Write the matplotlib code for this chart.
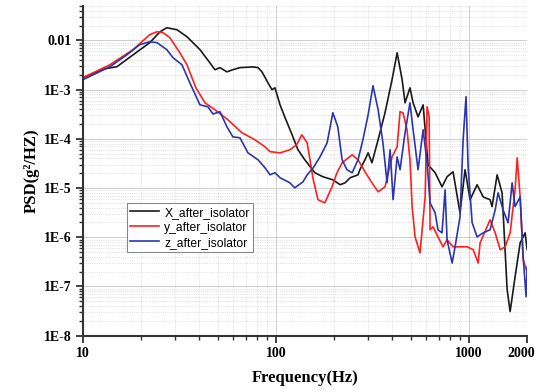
import matplotlib
matplotlib.use("Agg")
import matplotlib.pyplot as plt
from matplotlib.ticker import FixedLocator, LogLocator, NullFormatter

# ---- data ----
x_freq = [10, 13.0, 15.0, 18.2, 22.2, 25.1, 27.2, 30.7, 34.6, 40.4, 45.5, 48.3, 51.3,
          55.7, 59.8, 65.1, 76.0, 80.7, 84.6, 90.9, 95.3, 98.8, 105, 111, 120, 130,
          141, 159, 175, 197, 215, 228, 242, 266, 272, 289, 300, 314, 338, 367, 399,
          424, 450, 466, 494, 513, 544, 578, 613, 667, 724, 769, 826, 897, 953, 1012,
          1100, 1183, 1284, 1315, 1397, 1482, 1574, 1631, 1730, 1838, 1950, 1999]
x_psd = [1.75e-3, 2.66e-3, 2.92e-3, 5.1e-3, 9.0e-3, 1.5e-2, 1.81e-2, 1.65e-2, 1.19e-2,
         6.5e-3, 3.5e-3, 2.54e-3, 2.8e-3, 2.3e-3, 2.54e-3, 2.8e-3, 2.9e-3, 2.8e-3,
         2.3e-3, 1.38e-3, 1.0e-3, 1.09e-3, 4.9e-4, 2.8e-4, 1.33e-4, 6.0e-5, 3.76e-5,
         2.05e-5, 1.7e-5, 1.47e-5, 1.17e-5, 1.28e-5, 1.62e-5, 1.86e-5, 2.36e-5,
         3.76e-5, 5.2e-5, 3.27e-5, 9.6e-5, 3.4e-4, 1.59e-3, 5.6e-3, 1.59e-3, 5.4e-4,
         1.09e-3, 5.4e-4, 2.8e-4, 4.9e-4, 2.97e-5, 2.05e-5, 1.06e-5, 1.7e-5, 2.14e-5,
         3.15e-6, 2.36e-5, 5.8e-6, 1.17e-5, 6.6e-6, 5.8e-6, 4.2e-6, 1.86e-5, 8.0e-6,
         8.6e-8, 3.1e-8, 1.57e-7, 7.7e-7, 1.23e-6, 5.6e-7]

y_freq = [10, 13.8, 18.2, 22.2, 24.2, 26.0, 28.2, 31.8, 34.6, 38.5, 42.9, 48.3, 56.4,
          66.6, 77.8, 87.7, 93.1, 105, 118, 128, 136, 145, 150, 156, 165, 179, 195,
          207, 220, 248, 266, 289, 314, 338, 367, 399, 424, 439, 455, 477, 494, 507,
          525, 557, 592, 606, 621, 628, 651, 690, 733, 769, 826, 977, 1050, 1114,
          1140, 1239, 1284, 1365, 1448, 1537, 1631, 1730, 1774, 1838, 1905, 1999]
y_psd = [1.75e-3, 3.2e-3, 6.5e-3, 1.31e-2, 1.5e-2, 1.44e-2, 1.14e-2, 5.6e-3, 3.2e-3,
         1.09e-3, 5.4e-4, 3.9e-4, 2.44e-4, 1.33e-4, 9.6e-5, 6.9e-5, 5.5e-5, 5.2e-5,
         6.0e-5, 7.6e-5, 1.21e-4, 8.3e-5, 3.76e-5, 1.47e-5, 5.8e-6, 5.0e-6, 1.06e-5,
         2.05e-5, 3.27e-5, 4.75e-5, 3.76e-5, 2.14e-5, 1.28e-5, 8.4e-6, 1.06e-5,
         4.3e-5, 6.9e-5, 3.56e-4, 3.39e-4, 1.53e-4, 3.76e-5, 4.2e-6, 1.02e-6, 4.8e-7,
         6.6e-6, 4.49e-4, 2.81e-4, 1.42e-6, 1.63e-6, 1.02e-6, 6.4e-7, 8.9e-7, 6.4e-7,
         6.4e-7, 5.6e-7, 3.0e-7, 7.7e-7, 1.63e-6, 2.27e-6, 1.23e-6, 5.6e-7, 6.4e-7,
         1.23e-6, 9.2e-6, 4.1e-5, 6.6e-6, 3.5e-7, 1.9e-7]

z_freq = [10, 13.8, 16.9, 19.7, 22.2, 24.2, 27.2, 29.3, 32.6, 35.8, 40.4, 44.4, 47.2,
          51.3, 55.7, 59.8, 65.1, 71.6, 80.7, 87.7, 93.1, 98.8, 105, 118, 125, 138,
          145, 156, 169, 184, 197, 209, 220, 233, 248, 266, 282, 300, 318, 338, 358,
          376, 390, 404, 424, 439, 466, 494, 513, 544, 578, 606, 628, 667, 690, 724,
          751, 769, 817, 846, 897, 931, 964, 988, 1037, 1100, 1183, 1284, 1365, 1413,
          1500, 1592, 1670, 1730, 1838, 1905, 1973, 1999]
z_psd = [1.59e-3, 2.92e-3, 5.1e-3, 8.2e-3, 9.4e-3, 9.0e-3, 6.5e-3, 4.45e-3, 3.2e-3,
         1.38e-3, 4.9e-4, 4.49e-4, 3.2e-4, 3.56e-4, 1.76e-4, 1.1e-4, 1.05e-4, 5.2e-5,
         3.76e-5, 2.59e-5, 1.86e-5, 2.05e-5, 1.62e-5, 1.28e-5, 1.01e-5, 1.34e-5,
         1.86e-5, 2.59e-5, 4.3e-5, 8.3e-5, 3.39e-4, 1.76e-4, 3.76e-5, 2.36e-5, 2.05e-5,
         3.76e-5, 9.6e-5, 3.09e-4, 1.2e-3, 3.9e-4, 8.3e-5, 1.28e-5, 6.0e-5, 5.8e-6,
         4.3e-5, 2.36e-5, 1.33e-4, 5.4e-4, 1.53e-4, 2.36e-5, 1.53e-4, 3.27e-5, 5.0e-6,
         3.15e-6, 1.42e-6, 1.23e-6, 9.2e-6, 8.9e-7, 3.0e-7, 6.4e-7, 2.6e-6, 9.6e-5,
         7.2e-4, 2.71e-5, 1.97e-6, 1.02e-6, 1.23e-6, 1.42e-6, 3.6e-6, 8.0e-6, 3.6e-6,
         1.97e-6, 1.28e-5, 4.2e-6, 6.6e-6, 4.0e-7, 6.2e-8, 2.5e-7]

series_labels = ["X_after_isolator", "y_after_isolator", "z_after_isolator"]
xtick_vals = [10, 100, 1000, 2000]
xtick_labels = ["10", "100", "1000", "2000"]
ytick_vals = [1e-8, 1e-7, 1e-6, 1e-5, 1e-4, 1e-3, 1e-2]
ytick_labels = ["1E-8", "1E-7", "1E-6", "1E-5", "1E-4", "1E-3", "0.01"]

# ---- figure ----
fig = plt.figure(figsize=(5.38, 3.92), dpi=100)
ax = fig.add_axes([0.154, 0.1436, 0.826, 0.841])

colors = ["#1a1a1a", "#ff2020", "#2a36b0"]
ax.plot(x_freq, x_psd, color=colors[0], lw=1.2, label=series_labels[0])
ax.plot(y_freq, y_psd, color=colors[1], lw=1.2, label=series_labels[1])
ax.plot(z_freq, z_psd, color=colors[2], lw=1.2, label=series_labels[2])

ax.set_xscale("log")
ax.set_yscale("log")
ax.set_xlim(10, 2000)
ax.set_ylim(1e-8, 0.05)

serif_bold = dict(family="Liberation Serif", weight="bold")
tick_font = dict(size=10, **serif_bold)
ax.xaxis.set_major_locator(FixedLocator(xtick_vals))
# last label is drawn separately (slightly shifted left so it stays inside the canvas)
ax.set_xticklabels(xtick_labels[:-1] + [""], fontdict=tick_font)
ax.annotate(xtick_labels[-1], xy=(xtick_vals[-1], 0),
            xycoords=ax.get_xaxis_transform(), xytext=(-4, -8),
            textcoords="offset points", ha="center", va="top", **tick_font)
ax.xaxis.set_minor_locator(LogLocator(base=10, subs=range(2, 10), numticks=20))
ax.xaxis.set_minor_formatter(NullFormatter())
ax.yaxis.set_major_locator(FixedLocator(ytick_vals))
ax.set_yticklabels(ytick_labels, fontdict=tick_font)
ax.yaxis.set_minor_locator(LogLocator(base=10, subs=range(2, 10), numticks=20))
ax.yaxis.set_minor_formatter(NullFormatter())

ax.grid(which="major", color="#cfcfcf", lw=0.7, ls="-")
ax.grid(which="minor", color="#d4d4d4", lw=0.6, ls=":")
ax.set_axisbelow(True)

for s in ["top", "right"]:
    ax.spines[s].set_visible(False)
for s in ["left", "bottom"]:
    ax.spines[s].set_color("#333333")
    ax.spines[s].set_linewidth(1.5)
ax.tick_params(which="major", direction="out", length=5, width=1.3, color="#333333", pad=3)
ax.tick_params(which="minor", direction="out", length=3, width=1.0, color="#333333")

ax.set_xlabel("Frequency(Hz)", fontsize=12, labelpad=7, **serif_bold)
ax.set_ylabel("PSD(g²/HZ)", fontsize=12, labelpad=3, **serif_bold)

leg = ax.legend(loc="upper left", bbox_to_anchor=(0.099, 0.4025), borderaxespad=0,
                prop=dict(family="Liberation Sans", size=8.7), handlelength=2.4,
                labelspacing=0.25, borderpad=0.3, handletextpad=0.4,
                fancybox=False, framealpha=1, edgecolor="#888888")
leg.get_frame().set_linewidth(0.8)

fig.savefig("out.png", dpi=100)
